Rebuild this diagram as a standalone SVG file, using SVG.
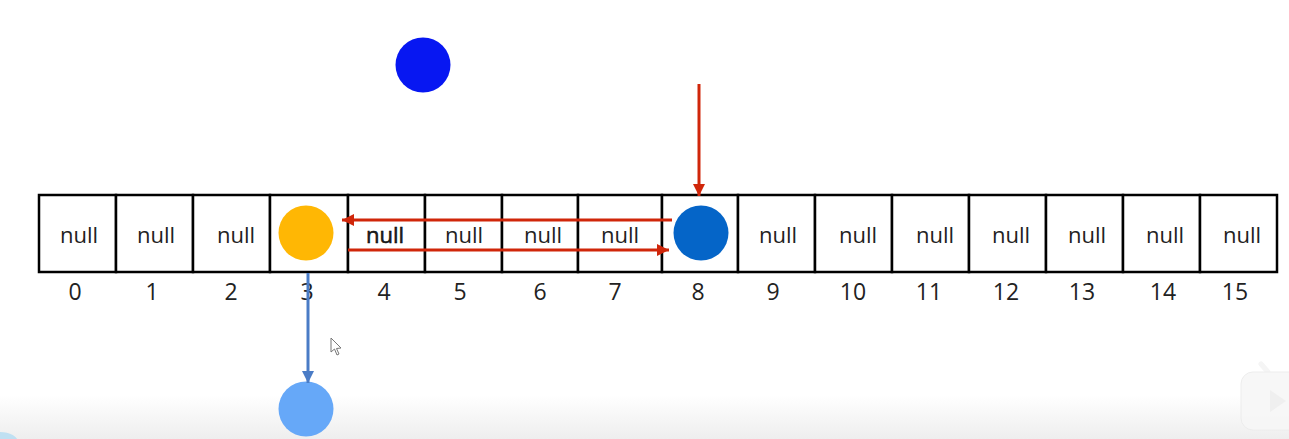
<svg xmlns="http://www.w3.org/2000/svg" width="1289" height="439" viewBox="0 0 1289 439">
  <defs>
    <style>
      .cell { fill: #ffffff; stroke: #000000; stroke-width: 2.5; }
      .null { font-family: "Open Sans", "Noto Sans", sans-serif; font-size: 22px; fill: #222222; text-anchor: middle; }
      .idx { font-family: "Open Sans", "Noto Sans", sans-serif; font-size: 23px; fill: #222222; text-anchor: middle; }
      .red { stroke: #D0260A; stroke-width: 3; fill: none; }
      .blue { stroke: #4A7CC6; stroke-width: 3; fill: none; }
    </style>
    <linearGradient id="bottomFade" x1="0" y1="0" x2="0" y2="1">
      <stop offset="0" stop-color="#ffffff"/>
      <stop offset="1" stop-color="#eeeeee"/>
    </linearGradient>
    <marker id="redHead" viewBox="0 0 10 10" refX="10" refY="5" markerWidth="4" markerHeight="4" orient="auto" markerUnits="strokeWidth">
      <path d="M0,0 L10,5 L0,10 Z" fill="#D0260A"/>
    </marker>
    <marker id="blueHead" viewBox="0 0 10 10" refX="10" refY="5" markerWidth="4" markerHeight="4" orient="auto" markerUnits="strokeWidth">
      <path d="M0,0 L10,5 L0,10 Z" fill="#4A7CC6"/>
    </marker>
  </defs>

  <rect x="0" y="0" width="1289" height="439" fill="#ffffff"/>
  <rect x="0" y="395" width="1289" height="44" fill="url(#bottomFade)"/>
  <ellipse cx="0" cy="442" rx="18" ry="10" fill="#bfe0f2"/>

  <g id="array">
    <rect class="cell" x="39" y="195" width="77" height="77"/>
    <rect class="cell" x="116" y="195" width="77" height="77"/>
    <rect class="cell" x="193" y="195" width="77" height="77"/>
    <rect class="cell" x="270" y="195" width="78" height="77"/>
    <rect class="cell" x="348" y="195" width="77" height="77"/>
    <rect class="cell" x="425" y="195" width="77" height="77"/>
    <rect class="cell" x="502" y="195" width="76" height="77"/>
    <rect class="cell" x="578" y="195" width="84" height="77"/>
    <rect class="cell" x="662" y="195" width="76" height="77"/>
    <rect class="cell" x="738" y="195" width="77" height="77"/>
    <rect class="cell" x="815" y="195" width="77" height="77"/>
    <rect class="cell" x="892" y="195" width="77" height="77"/>
    <rect class="cell" x="969" y="195" width="77" height="77"/>
    <rect class="cell" x="1046" y="195" width="77" height="77"/>
    <rect class="cell" x="1123" y="195" width="77" height="77"/>
    <rect class="cell" x="1200" y="195" width="77" height="77"/>

    <text class="null" x="79" y="243">null</text>
    <text class="null" x="156" y="243">null</text>
    <text class="null" x="236" y="243">null</text>
    <text class="null" x="385" y="243" fill="#000000" stroke="#000000" stroke-width="0.5">null</text>
    <text class="null" x="464" y="243">null</text>
    <text class="null" x="543" y="243">null</text>
    <text class="null" x="620" y="243">null</text>
    <text class="null" x="778" y="243">null</text>
    <text class="null" x="858" y="243">null</text>
    <text class="null" x="935" y="243">null</text>
    <text class="null" x="1011" y="243">null</text>
    <text class="null" x="1087" y="243">null</text>
    <text class="null" x="1165" y="243">null</text>
    <text class="null" x="1242" y="243">null</text>
  </g>

  <g id="indices">
    <text class="idx" x="75" y="300">0</text>
    <text class="idx" x="152" y="300">1</text>
    <text class="idx" x="231" y="300">2</text>
    <text class="idx" x="307" y="300">3</text>
    <text class="idx" x="384" y="300">4</text>
    <text class="idx" x="460" y="300">5</text>
    <text class="idx" x="540" y="300">6</text>
    <text class="idx" x="615" y="300">7</text>
    <text class="idx" x="698" y="300">8</text>
    <text class="idx" x="773" y="300">9</text>
    <text class="idx" x="853" y="300">10</text>
    <text class="idx" x="929" y="300">11</text>
    <text class="idx" x="1006" y="300">12</text>
    <text class="idx" x="1082" y="300">13</text>
    <text class="idx" x="1163" y="300">14</text>
    <text class="idx" x="1235" y="300">15</text>
  </g>

  <g id="node-top"><circle cx="423" cy="65" r="27.5" fill="#0717F2"/></g>
  <g id="node-orange"><circle cx="306" cy="233" r="27.5" fill="#FFB704"/></g>
  <g id="node-blue"><circle cx="701" cy="233" r="27.5" fill="#0565C8"/></g>
  <g id="node-lightblue"><circle cx="306" cy="409" r="27.5" fill="#66A8F8"/></g>

  <g id="connectors">
    <line class="red" x1="699" y1="84" x2="699" y2="196" marker-end="url(#redHead)"/>
    <line class="red" x1="672" y1="220" x2="342" y2="220" marker-end="url(#redHead)"/>
    <line class="red" x1="348" y1="250" x2="669" y2="250" marker-end="url(#redHead)"/>
    <line class="blue" x1="308" y1="273" x2="308" y2="383" marker-end="url(#blueHead)"/>
  </g>

  <g id="cursor">
    <path d="M331,338 L331,352 L334.5,349 L337,355 L339,354 L336.5,348.5 L341,348 Z" fill="#ffffff" stroke="#777777" stroke-width="1"/>
  </g>

  <g id="watermark" opacity="0.9">
    <path d="M1261,364 L1268,372" stroke="#f4f4f4" stroke-width="5" stroke-linecap="round"/>
    <rect x="1241" y="372" width="60" height="58" rx="12" fill="#f7f7f7" stroke="#ececec" stroke-width="1"/>
    <path d="M1270,390 L1286,401 L1270,412 Z" fill="#eeeeee"/>
  </g>
</svg>
